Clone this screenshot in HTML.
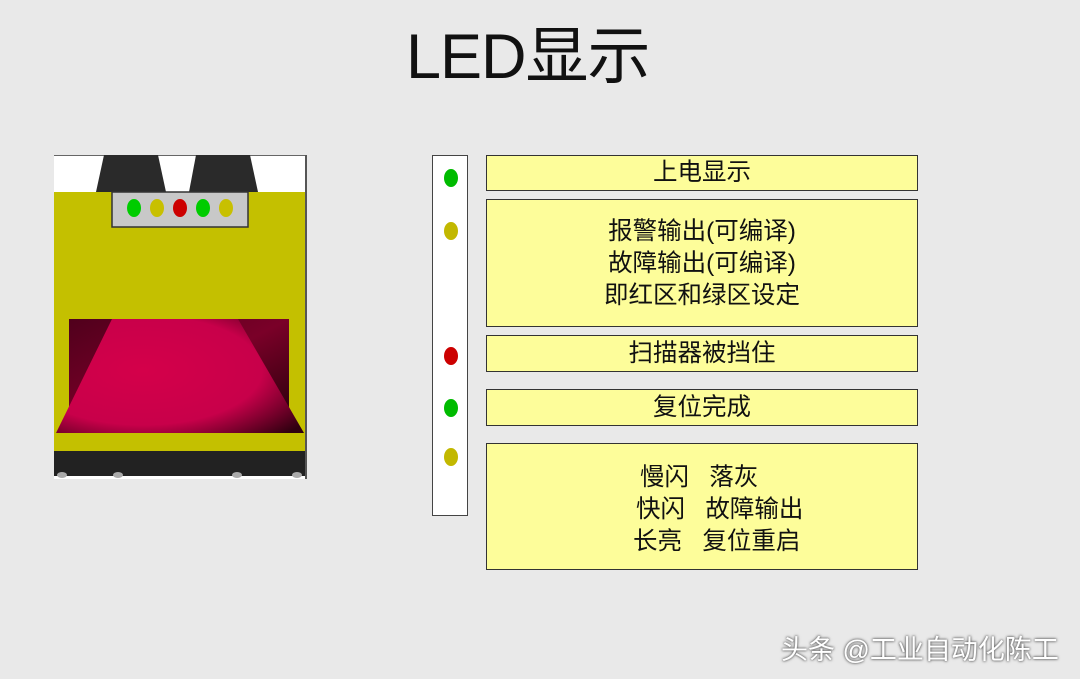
<!DOCTYPE html>
<html><head><meta charset="utf-8"><style>
body{margin:0;width:1080px;height:679px;background:#e9e9e9;position:relative;overflow:hidden;font-family:"Liberation Sans","Noto Sans CJK SC",sans-serif;}
.a{position:absolute}
.box{position:absolute;left:486px;width:430px;background:#fdfd9a;border:1px solid #333;display:flex;align-items:center;justify-content:center;text-align:center;font-size:24.5px;line-height:32px;color:#111}
.d{position:absolute;width:14px;height:18px;border-radius:50%;}
.l{position:absolute;white-space:pre;font-size:24.5px;color:#111}
</style></head><body>
<div class="a" style="left:406px;top:6px;font-size:63px;color:#111;letter-spacing:-1px">LED显示</div>

<svg class="a" style="left:54px;top:155px" width="253" height="324" viewBox="0 0 253 324">
<defs>
<linearGradient id="g" x1="0" y1="0" x2="1" y2="1"><stop offset="0" stop-color="#50001c"/><stop offset="0.5" stop-color="#7a0028"/><stop offset="1" stop-color="#200008"/></linearGradient>
<radialGradient id="p" cx="0.35" cy="0.45" r="0.8"><stop offset="0" stop-color="#d4004a"/><stop offset="0.6" stop-color="#c8004a"/><stop offset="1" stop-color="#300010"/></radialGradient>
</defs>
<rect x="0" y="0" width="253" height="324" fill="#fff"/>
<rect x="0" y="0" width="252" height="1" fill="#666"/>
<polygon points="50,0 104,0 112,37 42,37" fill="#2a2a2a"/>
<polygon points="142,0 196,0 204,37 135,37" fill="#2a2a2a"/>
<rect x="0" y="37" width="252" height="260" fill="#c4c000"/>
<rect x="58" y="37" width="136" height="35" fill="#c8c8c8" stroke="#333" stroke-width="1.5"/>
<rect x="15" y="164" width="220" height="114" fill="url(#g)"/>
<polygon points="58,164 184,164 250,278 2,278" fill="url(#p)"/>
<rect x="0" y="278" width="252" height="18" fill="#c4c000"/>
<rect x="0" y="296" width="252" height="25" fill="#222"/>
<ellipse cx="8" cy="320" rx="5" ry="3" fill="#aaa"/><ellipse cx="64" cy="320" rx="5" ry="3" fill="#aaa"/><ellipse cx="183" cy="320" rx="5" ry="3" fill="#aaa"/><ellipse cx="243" cy="320" rx="5" ry="3" fill="#aaa"/>
<rect x="251" y="0" width="2" height="324" fill="#555"/>
</svg>
<div class="d" style="left:127px;top:199px;background:#0c0"></div>
<div class="d" style="left:150px;top:199px;background:#c8c000"></div>
<div class="d" style="left:173px;top:199px;background:#c00"></div>
<div class="d" style="left:196px;top:199px;background:#0c0"></div>
<div class="d" style="left:219px;top:199px;background:#c8c000"></div>

<div class="a" style="left:432px;top:155px;width:34px;height:359px;background:#fff;border:1px solid #444"></div>
<div class="d" style="left:444px;top:169px;background:#0b0"></div>
<div class="d" style="left:444px;top:222px;background:#c2b800"></div>
<div class="d" style="left:444px;top:347px;background:#c00"></div>
<div class="d" style="left:444px;top:399px;background:#0b0"></div>
<div class="d" style="left:444px;top:448px;background:#c2b800"></div>

<div class="box" style="top:155px;height:34px">上电显示</div>
<div class="box" style="top:199px;padding-top:2px;height:124px">报警输出(可编译)<br>故障输出(可编译)<br>即红区和绿区设定</div>
<div class="box" style="top:335px;height:35px">扫描器被挡住</div>
<div class="box" style="top:389px;height:35px">复位完成</div>
<div class="box" style="top:443px;height:125px"></div>
<div class="l" style="left:640px;top:458px">慢闪   落灰</div>
<div class="l" style="left:636px;top:490px">快闪   故障输出</div>
<div class="l" style="left:633px;top:522px">长亮   复位重启</div>

<div class="a" style="left:781px;top:628px;font-size:27px;color:#fff;text-shadow:0 0 2px #555,0 0 3px #777">头条 @工业自动化陈工</div>
</body></html>
